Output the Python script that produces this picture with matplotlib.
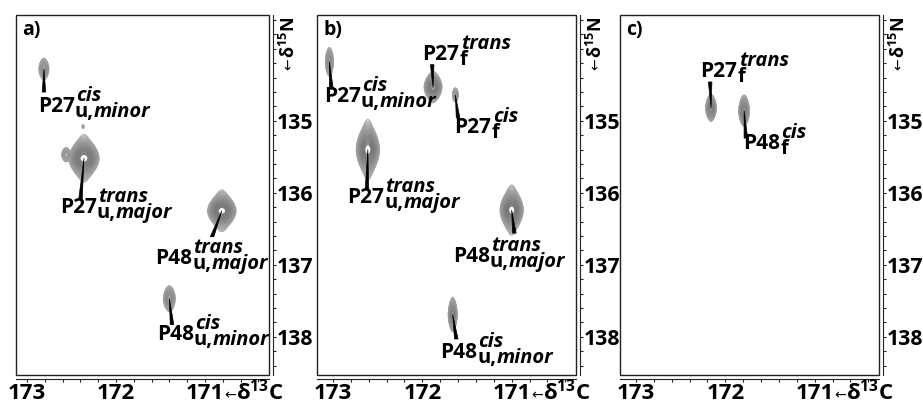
import numpy as np
import matplotlib
matplotlib.use("Agg")
import matplotlib.pyplot as plt
from matplotlib.patches import Polygon, Rectangle
from matplotlib.ticker import FixedLocator, MultipleLocator

plt.rcParams['font.family'] = ['Open Sans', 'DejaVu Sans']
plt.rcParams['font.weight'] = 'bold'
plt.rcParams['mathtext.default'] = 'regular'

# peaks per panel: 13C / 15N shift (ppm), half extent of lowest contour (ppm), height
a_c = [172.81, 172.36, 172.56, 172.37, 170.81, 171.40]
a_n = [134.28, 135.52, 135.47, 135.08, 136.25, 137.47]
a_wc = [0.056, 0.17, 0.05, 0.012, 0.16, 0.067]
a_wn = [0.15, 0.33, 0.10, 0.025, 0.29, 0.18]
a_h = [6, 40, 3, 1.3, 40, 8]

b_c = [173.04, 171.88, 171.63, 172.61, 171.00, 171.66]
b_n = [134.18, 134.53, 134.64, 135.40, 136.24, 137.69]
b_wc = [0.045, 0.10, 0.033, 0.13, 0.13, 0.05]
b_wn = [0.20, 0.22, 0.10, 0.42, 0.35, 0.24]
b_h = [6, 25, 3, 40, 40, 15]

c_c = [172.16, 171.79]
c_n = [134.82, 134.86]
c_wc = [0.06, 0.06]
c_wn = [0.19, 0.22]
c_h = [15, 15]

# labels: name, superscript, subscript (upright, italic), text anchor, leader end
a_lab = [("P27", "cis", "u,", "minor", 172.88, 134.875, 172.81, 134.60),
         ("P27", "trans", "u,", "major", 172.63, 136.28, 172.40, 136.10),
         ("P48", "trans", "u,", "major", 171.56, 136.99, 170.92, 136.61),
         ("P48", "cis", "u,", "minor", 171.54, 138.04, 171.37, 137.83)]
b_lab = [("P27", "cis", "u,", "minor", 173.10, 134.74, 173.02, 134.53),
         ("P27", "trans", "f", "", 172.00, 134.15, 171.89, 134.22),
         ("P27", "cis", "f", "", 171.64, 135.17, 171.60, 134.96),
         ("P27", "trans", "u,", "major", 172.84, 136.14, 172.62, 135.96),
         ("P48", "trans", "u,", "major", 171.66, 136.96, 170.97, 136.56),
         ("P48", "cis", "u,", "minor", 171.80, 138.29, 171.62, 138.03)]
c_lab = [("P27", "trans", "f", "", 172.28, 134.39, 172.17, 134.46),
         ("P48", "cis", "f", "", 171.80, 135.39, 171.77, 135.24)]

panels = [("a)", a_c, a_n, a_wc, a_wn, a_h, a_lab, 16, 269, 173.124),
          ("b)", b_c, b_n, b_wc, b_wn, b_h, b_lab, 317, 576, 173.179),
          ("c)", c_c, c_n, c_wc, c_wn, c_h, c_lab, 620, 879, 173.179)]

W, H = 923, 403
FS = 15
FS2 = 14.5
TS = 16

fig = plt.figure(figsize=(W / 100, H / 100), dpi=100)

# line shape along 15N: gauss/lorentz mix, used to hit the lowest-contour extent
u = np.linspace(0, 60, 6000)


def lineshape(v):
    return 0.6 * np.exp(-0.5 * v ** 2) + 0.4 / (1 + v ** 2)


prof = lineshape(u)


def add_label(ax, lab):
    base, sup, sub, sub_it, x, y, ex, ey = lab
    t = ax.text(x, y, base, fontsize=FS, ha='left', va='baseline', zorder=5)
    ax.annotate(sup, xy=(1, 0), xycoords=t, xytext=(1, 11.5), textcoords='offset points',
                fontsize=FS2, style='italic', ha='left', va='baseline', zorder=5)
    s = ax.annotate(sub, xy=(1, 0), xycoords=t, xytext=(0, 0), textcoords='offset points',
                    fontsize=FS2, ha='left', va='baseline', zorder=5)
    if sub_it:
        ax.annotate(sub_it, xy=(1, 0), xycoords=s, fontsize=FS2, style='italic',
                    ha='left', va='bottom', zorder=5)


levels = np.geomspace(1, 32, 30)
shades = [str(g) for g in np.linspace(0.66, 0.44, len(levels))]

for name, pc, pn, wc, wn, ph, labs, x0, x1, xl in panels:
    ax = fig.add_axes([x0 / W, (H - 375) / H, (x1 - x0) / W, 360 / H])
    ax.set_xlim(xl, 170.28)
    ax.set_ylim(138.53, 133.53)

    X, Y = np.meshgrid(np.linspace(170.28, xl, 700), np.linspace(133.53, 138.53, 900))
    Z = np.zeros_like(X)
    for c, n, sx, sy, h in zip(pc, pn, wc, wn, ph):
        gx = sx / np.sqrt(2 * np.log(h + 1))
        ustar = np.interp(1 / (h + 1), prof[::-1], u[::-1])
        gy = sy / ustar
        f = (h + 1) * np.exp(-0.5 * ((X - c) / gx) ** 2) * lineshape((Y - n) / gy)
        Z = np.maximum(Z, f)
    ax.contour(X, Y, Z, levels=levels, colors=shades, linewidths=0.7, zorder=2)

    # leader wedges from peak to label
    for lab in labs:
        ex, ey = lab[6], lab[7]
        k = int(np.argmin([(c - ex) ** 2 + (n - ey) ** 2 for c, n in zip(pc, pn)]))
        ax.add_patch(Polygon([(pc[k], pn[k]), (ex - 0.02, ey), (ex + 0.02, ey)],
                             closed=True, fc='black', ec='black', lw=0.5, zorder=4))
        add_label(ax, lab)

    ax.text(0.024, 0.945, name, transform=ax.transAxes, fontsize=FS - 1, ha='left', va='baseline')

    # box
    ax.add_patch(Rectangle((0, 0), 1, 1, transform=ax.transAxes, fill=False,
                           ec='#222222', lw=1.0, clip_on=False, zorder=6))
    for s in ['top', 'left']:
        ax.spines[s].set_visible(False)
    ax.spines['right'].set_position(('outward', 2.8))
    ax.spines['bottom'].set_position(('outward', 3.2))
    for s in ['right', 'bottom']:
        ax.spines[s].set_linewidth(0.8)
        ax.spines[s].set_color('#222222')

    ax.yaxis.set_ticks_position('right')
    ax.yaxis.set_major_locator(FixedLocator([135, 136, 137, 138]))
    ax.yaxis.set_minor_locator(MultipleLocator(0.2))
    ax.xaxis.set_major_locator(FixedLocator([173, 172, 171]))
    ax.xaxis.set_minor_locator(MultipleLocator(0.2))
    ax.tick_params(which='both', direction='out', width=0.8, color='#222222')
    ax.tick_params(which='major', length=2.2, labelsize=TS, pad=0.6)
    ax.tick_params(which='minor', length=2.2)
    ax.tick_params(axis='y', which='major', labelsize=15.3, pad=0.3)

    # axis names
    ax.annotate('←', xy=(1, 0), xycoords='axes fraction', xytext=(-32.5, -17.8),
                textcoords='offset points', fontsize=10, fontweight='normal',
                family='DejaVu Sans', ha='left', va='baseline')
    ax.annotate('δ$^{13}$C', xy=(1, 0), xycoords='axes fraction', xytext=(-24, -17.8),
                textcoords='offset points', fontsize=TS, ha='left', va='baseline')
    ax.annotate('δ$^{15}$N', xy=(1, 1), xycoords='axes fraction', xytext=(14.5, -1.5),
                textcoords='offset points', fontsize=13, rotation=90,
                ha='center', va='top')
    ax.annotate('←', xy=(1, 1), xycoords='axes fraction', xytext=(14.5, -31),
                textcoords='offset points', fontsize=10, fontweight='normal',
                family='DejaVu Sans', rotation=90, ha='center', va='top')

fig.savefig('out.png', dpi=100)
